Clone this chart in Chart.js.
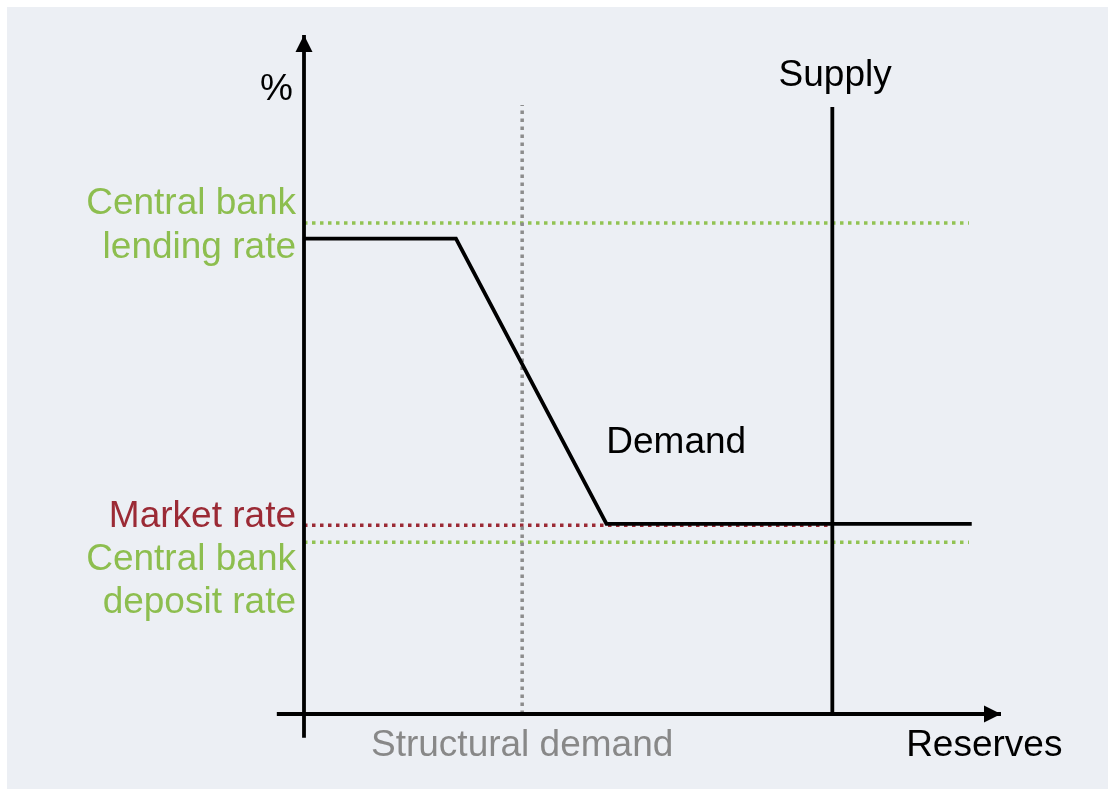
<!DOCTYPE html>
<html>
<head>
<meta charset="utf-8">
<script src="https://cdn.jsdelivr.net/npm/chart.js@4.4.1/dist/chart.umd.min.js"></script>
<style>
  html, body { margin: 0; padding: 0; background: #ffffff; }
  #wrap { position: absolute; left: 7px; top: 7px; width: 1101px; height: 782px; background: #eceff4; }
  canvas { display: block; }
</style>
</head>
<body>
<div id="wrap"><canvas id="c" width="1101" height="782"></canvas></div>
<script>
// ---- Data (conceptual units: 0..100 along each axis) ----
const demandX = [0, 21.8, 43.4, 95.8];
const demandY = [70.0, 70.0, 28.0, 28.0];
const lendingRate = 72.3;
const marketRate = 27.8;
const depositRate = 25.3;
const rateLineEnd = 95.4;
const marketRateEnd = 75.8;
const supplyX = 75.8;
const supplyTop = 89.4;
const structuralX = 31.3;
const structuralTop = 89.7;
const xAxisRange = [-3.9, 100];
const yAxisRange = [-3.5, 100];
const labelTexts = {
  percent: '%',
  supply: 'Supply',
  demand: 'Demand',
  lending: ['Central bank', 'lending rate'],
  market: 'Market rate',
  deposit: ['Central bank', 'deposit rate'],
  structural: 'Structural demand',
  reserves: 'Reserves'
};

const GREEN = '#92c353';
const GREEN_TEXT = '#8dbe4f';
const RED = '#9b2a35';
const GREY = '#8c8c8c';
const GREY_TEXT = '#888888';
const BLACK = '#000000';
const FONT = '37px "Liberation Sans", Arial, sans-serif';

const pts = (xs, ys) => xs.map((x, i) => ({ x: x, y: ys[i] }));

function lineDs(data, color, width, dash, extra) {
  return Object.assign({
    data: data,
    showLine: true,
    borderColor: color,
    backgroundColor: color,
    borderWidth: width,
    borderDash: dash || [],
    borderCapStyle: 'butt',
    borderJoinStyle: 'miter',
    pointRadius: 0,
    pointHoverRadius: 0,
    tension: 0,
    fill: false,
    clip: false
  }, extra || {});
}

const DOT = [3.5, 4.5];
const datasets = [
  lineDs(pts(demandX, demandY), BLACK, 3.8),
  lineDs([{ x: supplyX, y: 0 }, { x: supplyX, y: supplyTop }], BLACK, 3.8),
  lineDs([{ x: xAxisRange[0], y: 0 }, { x: xAxisRange[1], y: 0 }], BLACK, 3.8, null, { arrowHead: true }),
  lineDs([{ x: 0, y: yAxisRange[0] }, { x: 0, y: yAxisRange[1] }], BLACK, 3.8, null, { arrowHead: true }),
  lineDs([{ x: structuralX, y: 0 }, { x: structuralX, y: structuralTop }], GREY, 3.5, DOT),
  lineDs([{ x: 0, y: marketRate }, { x: marketRateEnd, y: marketRate }], RED, 3.5, DOT),
  lineDs([{ x: 0, y: lendingRate }, { x: rateLineEnd, y: lendingRate }], GREEN, 3.5, DOT),
  lineDs([{ x: 0, y: depositRate }, { x: rateLineEnd, y: depositRate }], GREEN, 3.5, DOT)
];

const arrowPlugin = {
  id: 'arrowHeads',
  afterDatasetsDraw(chart) {
    const ctx = chart.ctx;
    const xs = chart.scales.x, ys = chart.scales.y;
    chart.data.datasets.forEach(ds => {
      if (!ds.arrowHead) return;
      const n = ds.data.length;
      const a = ds.data[n - 2], b = ds.data[n - 1];
      const x1 = xs.getPixelForValue(a.x), y1 = ys.getPixelForValue(a.y);
      const x2 = xs.getPixelForValue(b.x), y2 = ys.getPixelForValue(b.y);
      const ang = Math.atan2(y2 - y1, x2 - x1);
      const len = 17, half = 8.5;
      ctx.save();
      ctx.fillStyle = ds.borderColor;
      ctx.beginPath();
      ctx.moveTo(x2, y2);
      ctx.lineTo(x2 - len * Math.cos(ang) + half * Math.sin(ang), y2 - len * Math.sin(ang) - half * Math.cos(ang));
      ctx.lineTo(x2 - len * Math.cos(ang) - half * Math.sin(ang), y2 - len * Math.sin(ang) + half * Math.cos(ang));
      ctx.closePath();
      ctx.fill();
      ctx.restore();
    });
  }
};

// label placement (data units), kept separate from the data
const labelLayout = [
  { text: labelTexts.percent, x: -1.6, y: 90.4, align: 'right', color: BLACK },
  { text: labelTexts.supply, x: 76.2, y: 92.5, align: 'center', color: BLACK },
  { text: labelTexts.demand, x: 53.4, y: 38.5, align: 'center', color: BLACK },
  { text: labelTexts.lending[0], x: -1.15, y: 73.6, align: 'right', color: GREEN_TEXT },
  { text: labelTexts.lending[1], x: -1.15, y: 67.2, align: 'right', color: GREEN_TEXT },
  { text: labelTexts.market, x: -1.15, y: 27.5, align: 'right', color: RED },
  { text: labelTexts.deposit[0], x: -1.15, y: 21.2, align: 'right', color: GREEN_TEXT },
  { text: labelTexts.deposit[1], x: -1.15, y: 14.9, align: 'right', color: GREEN_TEXT },
  { text: labelTexts.structural, x: 31.3, y: -6.2, align: 'center', color: GREY_TEXT },
  { text: labelTexts.reserves, x: 97.6, y: -6.2, align: 'center', color: BLACK }
];

const textPlugin = {
  id: 'textLabels',
  afterDraw(chart) {
    const ctx = chart.ctx;
    const xs = chart.scales.x, ys = chart.scales.y;
    ctx.save();
    ctx.font = FONT;
    ctx.textBaseline = 'alphabetic';
    labelLayout.forEach(l => {
      ctx.fillStyle = l.color;
      ctx.textAlign = l.align;
      ctx.fillText(l.text, xs.getPixelForValue(l.x), ys.getPixelForValue(l.y));
    });
    ctx.restore();
  }
};

new Chart(document.getElementById('c'), {
  type: 'scatter',
  data: { datasets: datasets },
  options: {
    responsive: false,
    animation: false,
    events: [],
    layout: { padding: { left: 297, right: 107, top: 28, bottom: 75 } },
    scales: {
      x: { type: 'linear', min: 0, max: 100, display: false },
      y: { type: 'linear', min: 0, max: 100, display: false }
    },
    plugins: {
      legend: { display: false },
      tooltip: { enabled: false },
      title: { display: false }
    }
  },
  plugins: [arrowPlugin, textPlugin]
});
</script>
</body>
</html>
